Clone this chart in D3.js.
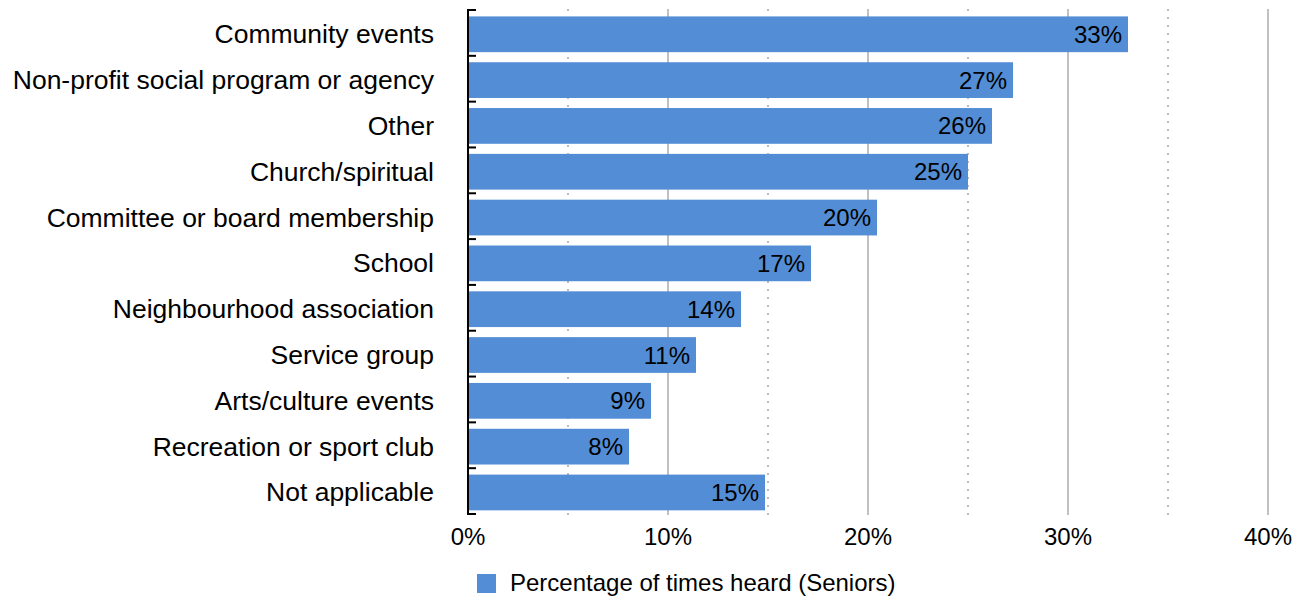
<!DOCTYPE html>
<html>
<head>
<meta charset="utf-8">
<script src="https://cdn.jsdelivr.net/npm/d3@7"></script>
<style>
  body { margin: 0; background: #fff; }
  text { font-family: "Liberation Sans", Arial, sans-serif; fill: #000; }
</style>
</head>
<body>
<svg id="chart" width="1296" height="598"></svg>
<script>
const categories = [
    "Community events",
    "Non-profit social program or agency",
    "Other",
    "Church/spiritual",
    "Committee or board membership",
    "School",
    "Neighbourhood association",
    "Service group",
    "Arts/culture events",
    "Recreation or sport club",
    "Not applicable"
];
const seniors = [0.33, 0.2725, 0.262, 0.25, 0.2045, 0.1715, 0.1365, 0.114, 0.0915, 0.0805, 0.1485];
const majorTicks = [0, 0.1, 0.2, 0.3, 0.4];
const minorTicks = [0.05, 0.15, 0.25, 0.35];
const seriesName = "Percentage of times heard (Seniors)";

const plotLeft = 468, plotRight = 1268, plotTop = 10, plotBottom = 514;
const barColor = "#538dd5";

const svgSpace = d3.select("#chart");

const x = d3.scaleLinear().domain([0, 0.4]).range([plotLeft, plotRight]);
const y = d3.scaleBand().domain(categories).range([plotTop, plotBottom]).padding(0);
const pct = d3.format(".0%");

// gridlines first, bars go over them
svgSpace.append("g")
    .selectAll("line")
    .data(majorTicks.filter(d => d > 0))
    .enter()
    .append("line")
    .attr("x1", d => x(d)).attr("x2", d => x(d))
    .attr("y1", plotTop - 1).attr("y2", plotBottom + 1)
    .attr("stroke", "#c0c0c0")
    .attr("stroke-width", 2);

svgSpace.append("g")
    .selectAll("line")
    .data(minorTicks)
    .enter()
    .append("line")
    .attr("x1", d => x(d)).attr("x2", d => x(d))
    .attr("y1", plotTop - 1).attr("y2", plotBottom + 1)
    .attr("stroke", "#bdbdbd")
    .attr("stroke-width", 2)
    .attr("stroke-dasharray", "2,6");

const step = y.step();

svgSpace.append("g")
    .selectAll("rect")
    .data(categories)
    .enter()
    .append("rect")
    .attr("x", x(0) + 1)
    .attr("y", d => y(d) + step * 0.14)
    .attr("width", (d, i) => x(seniors[i]) - x(0) - 1)
    .attr("height", step * 0.78)
    .attr("fill", barColor);

// value labels inside bar ends
svgSpace.append("g")
    .selectAll("text")
    .data(categories)
    .enter()
    .append("text")
    .text((d, i) => pct(seniors[i]))
    .attr("x", (d, i) => x(seniors[i]) - 6)
    .attr("y", d => y(d) + step * 0.53 + 8.5)
    .attr("text-anchor", "end")
    .style("font-size", "24px");

// category labels
svgSpace.append("g")
    .selectAll("text")
    .data(categories)
    .enter()
    .append("text")
    .text(d => d)
    .attr("x", 434)
    .attr("y", d => y(d) + step * 0.53 + 9)
    .attr("text-anchor", "end")
    .style("font-size", "26.5px");

// category axis with ticks between rows
const axisG = svgSpace.append("g");
axisG.append("line")
    .attr("x1", plotLeft).attr("x2", plotLeft)
    .attr("y1", plotTop - 1).attr("y2", plotBottom + 1)
    .attr("stroke", "#000")
    .attr("stroke-width", 2);
axisG.selectAll("line.tk")
    .data(d3.range(categories.length + 1))
    .enter()
    .append("line")
    .attr("class", "tk")
    .attr("x1", plotLeft - 1).attr("x2", plotLeft + 8)
    .attr("y1", i => plotTop + i * step).attr("y2", i => plotTop + i * step)
    .attr("stroke", "#000")
    .attr("stroke-width", 2);

// x tick labels
svgSpace.append("g")
    .selectAll("text")
    .data(majorTicks)
    .enter()
    .append("text")
    .text(d => pct(d))
    .attr("x", d => x(d))
    .attr("y", 545)
    .attr("text-anchor", "middle")
    .style("font-size", "24px");

// legend (nudged up a bit so descenders stay inside the frame)
const legend = svgSpace.append("g");
legend.append("rect")
    .attr("x", 477).attr("y", 574)
    .attr("width", 19).attr("height", 19)
    .attr("fill", barColor);
legend.append("text")
    .text(seriesName)
    .attr("x", 510)
    .attr("y", 591)
    .style("font-size", "24px");
</script>
</body>
</html>
